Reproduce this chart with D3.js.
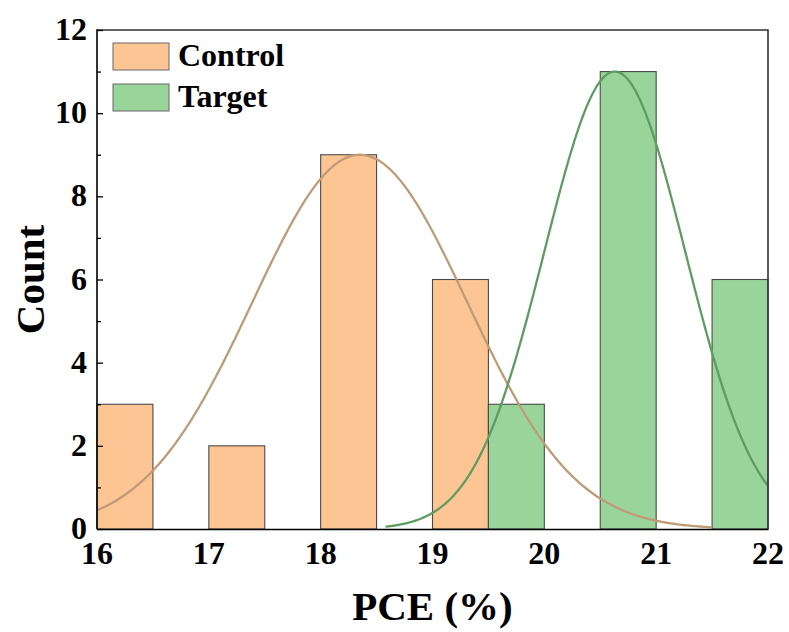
<!DOCTYPE html>
<html>
<head>
<meta charset="utf-8">
<script src="https://cdn.jsdelivr.net/npm/d3@7/dist/d3.min.js"></script>
<style>
  html, body { margin: 0; padding: 0; background: #fff; }
  svg text { font-family: "Liberation Serif", "Times New Roman", serif; font-weight: bold; fill: #000; }
</style>
</head>
<body>
<svg id="chart" width="789" height="632"></svg>
<script>
// Histogram bins (PCE %, lower edge) and counts
const controlBins = [16, 17, 18, 19];
const controlCounts = [3, 2, 9, 6];
const targetBins = [19.5, 20.5, 21.5];
const targetCounts = [3, 11, 6];
const binWidth = 0.5;

// Normal-fit parameters: [mean, sd, peak height, x start, x end]
const controlFit = [18.35, 0.96, 9, 16, 21.5];
const targetFit = [20.63, 0.63, 11, 18.58, 22];

const xTicks = [16, 17, 18, 19, 20, 21, 22];
const yTicks = [0, 2, 4, 6, 8, 10, 12];
const yMinorTicks = [1, 3, 5, 7, 9, 11];

const seriesNames = ["Control", "Target"];
const fills = ["#FDC593", "#99D59B"];
const curveColors = ["#BF9B77", "#5E9C62"];

const W = 789, H = 632;
const margin = { left: 97, right: 21, top: 30, bottom: 103 };
const svg = d3.select("#chart");

const x = d3.scaleLinear().domain([16, 22]).range([margin.left, W - margin.right]);
const y = d3.scaleLinear().domain([0, 12]).range([H - margin.bottom, margin.top]);

// bars
function drawBars(bins, counts, fill) {
  svg.append("g").selectAll("rect")
    .data(bins.map((b, i) => ({ b, c: counts[i] })))
    .join("rect")
    .attr("x", d => x(d.b))
    .attr("y", d => y(d.c))
    .attr("width", d => x(d.b + binWidth) - x(d.b))
    .attr("height", d => y(0) - y(d.c))
    .attr("fill", fill)
    .attr("stroke", "#4a4a4a")
    .attr("stroke-width", 1.1);
}
drawBars(controlBins, controlCounts, fills[0]);
drawBars(targetBins, targetCounts, fills[1]);

// fitted curves
function drawFit(p, color) {
  const [mu, sd, amp, x0, x1] = p;
  const pts = d3.range(0, 301).map(i => {
    const xv = x0 + (x1 - x0) * i / 300;
    return [xv, amp * Math.exp(-((xv - mu) ** 2) / (2 * sd * sd))];
  });
  svg.append("path")
    .datum(pts)
    .attr("fill", "none")
    .attr("stroke", color)
    .attr("stroke-width", 2.3)
    .attr("d", d3.line().x(d => x(d[0])).y(d => y(d[1])));
}
drawFit(controlFit, curveColors[0]);
drawFit(targetFit, curveColors[1]);

// frame (top and right)
svg.append("path")
  .attr("d", `M${x(16)},${y(12)}H${x(22)}V${y(0)}`)
  .attr("fill", "none").attr("stroke", "#333").attr("stroke-width", 1.6);

// y axis: inward ticks
const yAxis = svg.append("g").attr("transform", `translate(${x(16)},0)`);
yAxis.call(d3.axisRight(y).tickValues(yTicks).tickSize(6).tickFormat(""));
yAxis.append("g").call(d3.axisRight(y).tickValues(yMinorTicks).tickSize(4).tickFormat(""));
yAxis.selectAll(".domain").remove();
yAxis.selectAll("line").attr("stroke", "#000").attr("stroke-width", 1.3);
svg.append("line")
  .attr("x1", x(16)).attr("x2", x(16)).attr("y1", y(12) - 0.8).attr("y2", y(0))
  .attr("stroke", "#000").attr("stroke-width", 1.6);

svg.append("g").selectAll("text")
  .data(yTicks).join("text")
  .attr("x", x(16) - 10)
  .attr("y", d => y(d) + 10)
  .attr("text-anchor", "end")
  .attr("font-size", 32)
  .text(d => d);

// x axis
const xAxis = svg.append("g").attr("transform", `translate(0,${y(0)})`);
xAxis.call(d3.axisTop(x).tickValues(xTicks).tickSize(0).tickFormat(""));
xAxis.selectAll(".domain").attr("stroke", "#000").attr("stroke-width", 1.6);

svg.append("g").selectAll("text")
  .data(xTicks).join("text")
  .attr("x", d => x(d))
  .attr("y", y(0) + 35)
  .attr("text-anchor", "middle")
  .attr("font-size", 32)
  .text(d => d);

// axis titles
svg.append("text")
  .attr("x", (x(16) + x(22)) / 2)
  .attr("y", 620)
  .attr("text-anchor", "middle")
  .attr("font-size", 41)
  .text("PCE (%)");

svg.append("text")
  .attr("transform", `translate(44,${(y(0) + y(12)) / 2}) rotate(-90)`)
  .attr("text-anchor", "middle")
  .attr("font-size", 41)
  .text("Count");

// legend
const legend = svg.append("g").selectAll("g")
  .data(seriesNames).join("g")
  .attr("transform", (d, i) => `translate(113,${43 + i * 41})`);
legend.append("rect")
  .attr("width", 56).attr("height", 27)
  .attr("fill", (d, i) => fills[i])
  .attr("stroke", "#666").attr("stroke-width", 1);
legend.append("text")
  .attr("x", 65).attr("y", 23)
  .attr("font-size", 32)
  .text(d => d);
</script>
</body>
</html>
